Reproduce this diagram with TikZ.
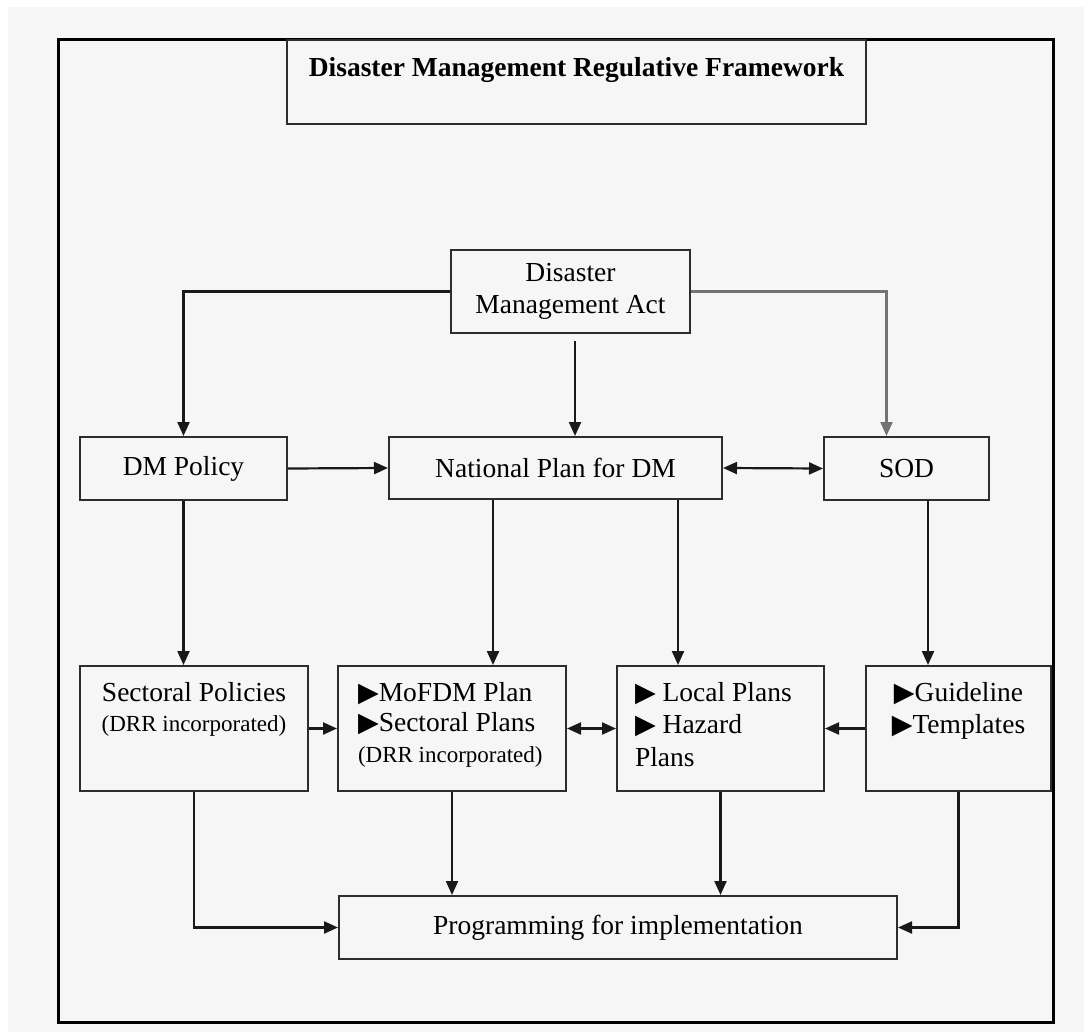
\documentclass[tikz,border=0pt]{standalone}
\usepackage{fontspec}
\setmainfont{Liberation Serif}
\newfontfamily\symfont{DejaVu Sans}
\usepackage{xcolor}
\usetikzlibrary{arrows.meta}
\definecolor{bggray}{RGB}{246,246,246}
\definecolor{boxline}{RGB}{45,45,45}
\newcommand{\tri}{{\symfont\fontsize{27}{27}\selectfont ▶}}
\newcommand{\drrsize}{\fontsize{23}{31}\selectfont}

\begin{document}
\begin{tikzpicture}[x=1pt, y=-1pt,
    box/.style={draw=boxline, line width=2pt, inner sep=0pt},
    arr/.style={line width=2.2pt, draw=black!90, -{Triangle[length=14pt,width=12pt]}},
    dblarr/.style={arr, {Triangle[length=14pt,width=12pt]}-{Triangle[length=14pt,width=12pt]}},
    font=\fontsize{27.5}{32}\selectfont]
  \fill[white] (0,0) rectangle (1084,1032);
  \fill[bggray] (8,7) rectangle (1084,1032);
  \useasboundingbox (0,0) rectangle (1084,1032);
  \draw[line width=3pt] (58,40) rectangle (1053,1022);

  \node[box] (title) at (576.5,82) {\parbox[c][84pt][t]{579pt}{\centering\bfseries\rule{0pt}{37pt}Disaster Management Regulative Framework}};

  \node[box, minimum width=239pt, minimum height=83pt, align=center] (DMA) at (570.5,291.5) {Disaster\\Management Act};
  \coordinate (DMAgap) at (575,341);

  \node[box, minimum width=207pt, minimum height=63pt] (DMP) at (183.5,468.5) {DM Policy};
  \node[box, minimum width=333pt, minimum height=62pt] (NP)  at (555.5,468)   {National Plan for DM};
  \node[box, minimum width=165pt, minimum height=63pt] (SOD) at (906.5,468.5) {SOD};

  \node[box] (SP) at (194,728.5) {\parbox[c][125pt][t]{228pt}{\centering\baselineskip=30.5pt
      \rule{0pt}{35pt}Sectoral Policies\\{\drrsize (DRR incorporated)}}};
  \node[box] (MP) at (452,728.5) {\parbox[c][125pt][t]{228pt}{\raggedright\leftskip=20pt\baselineskip=30.5pt
      \rule{0pt}{35pt}\tri MoFDM Plan\\\tri Sectoral Plans\\{\drrsize (DRR incorporated)}}};
  \node[box] (LP) at (720.5,728.5) {\parbox[c][125pt][t]{207pt}{\raggedright\leftskip=18pt\baselineskip=32.5pt
      \rule{0pt}{35pt}\tri{} Local Plans\\\tri{} Hazard\\Plans}};
  \node[box] (GT) at (958.5,728.5) {\parbox[c][125pt][t]{185pt}{\centering\baselineskip=32.5pt
      \rule{0pt}{35pt}\tri Guideline\\\tri Templates}};

  \node[box, minimum width=558pt, minimum height=63pt] (PI) at (618,927.5) {Programming for implementation};

  % from the act
  \draw[arr] (DMA.west) -| (DMP.north);
  \draw[arr, draw=black!55] (DMA.east) -| ([xshift=-20pt]SOD.north);
  \draw[arr] (DMAgap) -- (DMAgap |- NP.north);

  % second row
  \draw[arr] (DMP.east) -- (NP.west);
  \draw[dblarr] (NP.east) -- (SOD.west);
  \draw[arr] (DMP.south) -- (DMP.south |- SP.north);
  \draw[arr] ([xshift=-62.5pt]NP.south) -- ([xshift=-62.5pt]NP.south |- MP.north);
  \draw[arr] ([xshift=122.5pt]NP.south) -- ([xshift=122.5pt]NP.south |- LP.north);
  \draw[arr] ([xshift=21.5pt]SOD.south) -- ([xshift=21.5pt]SOD.south |- GT.north);

  % third row
  \draw[arr] (SP.east) -- (MP.west);
  \draw[dblarr] (MP.east) -- (LP.west);
  \draw[arr] (GT.west) -- (LP.east);

  % to programming
  \draw[arr] (SP.south) |- (PI.west);
  \draw[arr] (MP.south) -- (MP.south |- PI.north);
  \draw[arr] (LP.south) -- (LP.south |- PI.north);
  \draw[arr] (GT.south) |- (PI.east);
\end{tikzpicture}
\end{document}
